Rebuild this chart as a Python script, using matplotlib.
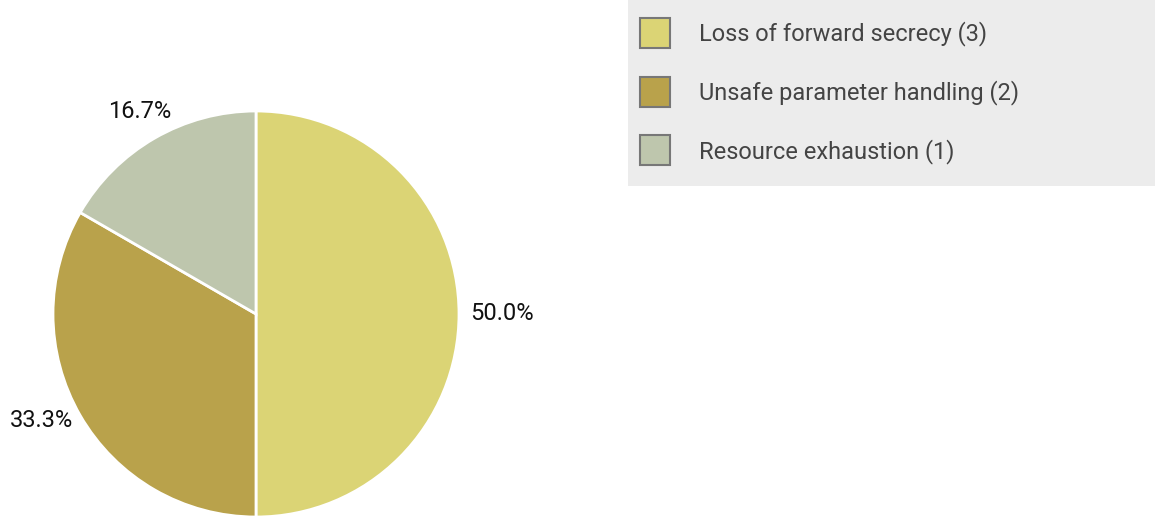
import matplotlib
matplotlib.use("Agg")
import matplotlib.pyplot as plt
from matplotlib.patches import Patch, Rectangle
import numpy as np

categories = ["Loss of forward secrecy", "Unsafe parameter handling", "Resource exhaustion"]
counts = [3, 2, 1]
colors = ["#dbd475", "#b9a24b", "#bec6ad"]
label_dist = [1.21, 1.18, 1.15]
label_angle_shift = [0.0, 3.5, 0.0]

plt.rcParams['font.family'] = ['Roboto', 'DejaVu Sans']

W, H = 1155, 518
fig = plt.figure(figsize=(W / 100, H / 100), dpi=100)

cx, cy, R = 256, 314, 203
ax = fig.add_axes([(cx - R) / W, (H - cy - R) / H, 2 * R / W, 2 * R / H])
total = sum(counts)
wedges, _ = ax.pie(counts, colors=colors, startangle=90, counterclock=False,
                   wedgeprops=dict(edgecolor="white", linewidth=2), radius=1)
for w, c, d, s in zip(wedges, counts, label_dist, label_angle_shift):
    mid = np.deg2rad((w.theta1 + w.theta2) / 2 - s)
    ax.text(d * np.cos(mid), d * np.sin(mid), f"{100 * c / total:.1f}%",
            ha="center", va="center", fontsize=17, color="#111111")
ax.set_xlim(-1, 1)
ax.set_ylim(-1, 1)
ax.set_aspect("equal")
ax.axis("off")

# legend background
fig.patches.append(Rectangle((628 / W, (H - 186) / H), (W - 628) / W, 186 / H,
                             transform=fig.transFigure, facecolor="#ececec",
                             edgecolor="none", zorder=0))
handles = [Patch(facecolor=c, edgecolor="#777777", linewidth=1.5) for c in colors]
labels = [f"{n} ({c})" for n, c in zip(categories, counts)]
fs = 17
em = fs * 100 / 72
hh = (30 / em - 0.245) / 0.65
leg = fig.legend(handles, labels, loc="upper left",
                 bbox_to_anchor=(640 / W, (H - 18) / H), frameon=False,
                 fontsize=fs, handlelength=30 / em, handleheight=hh,
                 handletextpad=29 / em, labelspacing=(66 - hh * em) / em,
                 borderpad=0, borderaxespad=0)
for t in leg.get_texts():
    t.set_color("#444444")

fig.savefig("out.png", dpi=100)
